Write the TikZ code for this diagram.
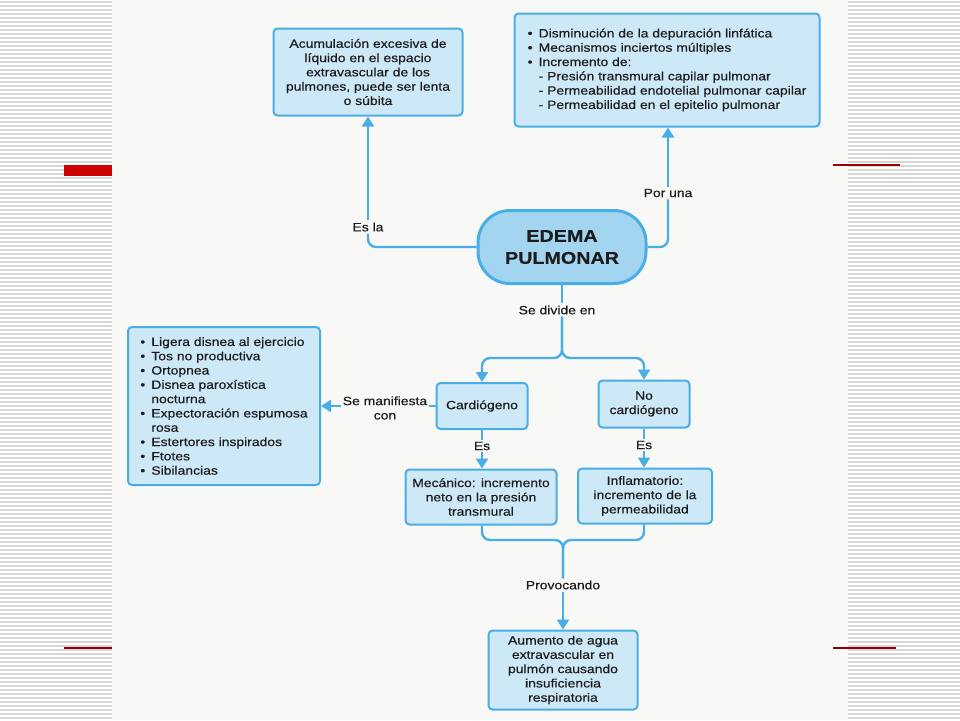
\documentclass[tikz,border=0pt]{standalone}
\usepackage{fontspec}
\setmainfont{Liberation Sans}[FakeStretch=1.16,FakeBold=0.4]
\usetikzlibrary{arrows.meta,positioning}

\definecolor{boxfill}{HTML}{CDE8F6}
\definecolor{boxline}{HTML}{4AAEE6}
\definecolor{corefill}{HTML}{A3D5F1}
\definecolor{paper}{HTML}{F8F8F6}
\definecolor{stripe}{HTML}{D6D6D6}
\definecolor{slidered}{HTML}{CC0000}
\definecolor{ink}{HTML}{1C1C1C}

\newcommand{\itm}[1]{\makebox[11pt][l]{\textbullet}#1}
\newcommand{\sub}[1]{\hspace*{11pt}- #1}

\tikzset{
  concept/.style={draw=boxline, fill=boxfill, line width=2pt, rounded corners=4pt,
    text=ink, font=\fontsize{12}{14.3}\selectfont, align=center, inner sep=3pt},
  core/.style={draw=boxline, fill=corefill, line width=3pt, rounded corners=32pt,
    text=ink, font=\fontsize{17}{22}\selectfont\bfseries, align=center,
    minimum width=168pt, minimum height=73pt},
  linktext/.style={text=ink, font=\fontsize{12}{14.3}\selectfont, align=center, inner sep=2pt},
  link/.style={draw=boxline, line width=2.4pt, rounded corners=8pt},
  tip/.style={-{Triangle[length=10pt,width=12pt]}}
}

\begin{document}
\begin{tikzpicture}[x=1pt,y=-1pt]
  \useasboundingbox (0,0) rectangle (960,720);
  % slide background
  \fill[white] (0,0) rectangle (960,720);
  \foreach \y in {2,6,...,718} {
    \draw[stripe, line width=1.2pt] (0,\y) -- (112,\y);
    \draw[stripe, line width=1.2pt] (848,\y) -- (960,\y);
  }
  \fill[paper] (112,0) rectangle (848,720);
  \fill[slidered] (64,165) rectangle (112,176);
  \draw[slidered!80!black, line width=1.2pt] (833,165) -- (900,165);
  \draw[slidered!70!black, line width=1.2pt] (64,648) -- (112,648);
  \draw[slidered!70!black, line width=1.2pt] (833,648) -- (896,648);

  % concepts
  \node[core] (edema) at (562,247) {EDEMA\\PULMONAR};
  \node[concept, minimum width=189pt, minimum height=87pt] (acum) at (368,72)
    {Acumulación excesiva de\\líquido en el espacio\\extravascular de los\\pulmones, puede ser lenta\\o súbita};
  \node[concept, align=left, minimum width=305pt, minimum height=113pt] (causas) at (667,70)
    {\itm{Disminución de la depuración linfática}\\
     \itm{Mecanismos inciertos múltiples}\\
     \itm{Incremento de:}\\
     \sub{Presión transmural capilar pulmonar}\\
     \sub{Permeabilidad endotelial pulmonar capilar}\\
     \sub{Permeabilidad en el epitelio pulmonar}};
  \node[concept, minimum width=91pt, minimum height=46pt] (cardio) at (482,406) {Cardiógeno};
  \node[concept, minimum width=91pt, minimum height=47pt] (nocardio) at (644,404) {No\\cardiógeno};
  \node[concept, minimum width=151pt, minimum height=55pt] (mecan) at (481,497)
    {Mecánico: incremento\\neto en la presión\\transmural};
  \node[concept, minimum width=134pt, minimum height=55pt] (inflam) at (645,496)
    {Inflamatorio:\\incremento de la\\permeabilidad};
  \node[concept, minimum width=149pt, minimum height=79pt] (aumento) at (563,670)
    {Aumento de agua\\extravascular en\\pulmón causando\\insuficiencia\\respiratoria};
  \node[concept, align=left, minimum width=192pt, minimum height=158pt] (sintomas) at (224,406)
    {\itm{Ligera disnea al ejercicio}\\
     \itm{Tos no productiva}\\
     \itm{Ortopnea}\\
     \itm{Disnea paroxística}\\
     \hspace*{11pt}nocturna\\
     \itm{Expectoración espumosa}\\
     \hspace*{11pt}rosa\\
     \itm{Estertores inspirados}\\
     \itm{Ftotes}\\
     \itm{Sibilancias}};

  % link words
  \node[linktext] (esla) at (368,227) {Es la};
  \node[linktext] (poruna) at (668,193) {Por una};
  \node[linktext] (divide) at (557,310) {Se divide en};
  \node[linktext] (manif) at (385,408) {Se manifiesta\\con};
  \node[linktext] (es1) at (482,446) {Es};
  \node[linktext] (es2) at (644,445) {Es};
  \node[linktext] (provoca) at (563,585) {Provocando};
  \coordinate (split) at (562,358);
  \coordinate (merge) at (563,540);

  % connectors
  \draw[link] (edema.west) -| (esla.south);
  \draw[link,tip] (esla.north) -- (esla.north |- acum.south);
  \draw[link] (edema.east) -| (poruna.south);
  \draw[link,tip] (poruna.north) -- (poruna.north |- causas.south);
  \draw[link] (edema.south) -- (edema.south |- divide.north);
  \draw[link,tip] (edema.south |- divide.south) -- (split) -| (cardio.north);
  \draw[link,tip] (edema.south |- divide.south) -- (split) -| (nocardio.north);
  \draw[link] (cardio.south) -- (es1.north);
  \draw[link,tip] (es1.south) -- (es1.south |- mecan.north);
  \draw[link] (nocardio.south) -- (es2.north);
  \draw[link,tip] (es2.south) -- (es2.south |- inflam.north);
  \draw[link] (cardio.west) -- (manif.east |- cardio.west);
  \draw[link,tip] (manif.west |- cardio.west) -- (sintomas.east |- cardio.west);
  \draw[link] (mecan.south -| es1.south) |- (merge) -- (provoca.north);
  \draw[link] (inflam.south -| es2.south) |- (merge) -- (provoca.north);
  \draw[link,tip] (provoca.south) -- (aumento.north);
\end{tikzpicture}
\end{document}
